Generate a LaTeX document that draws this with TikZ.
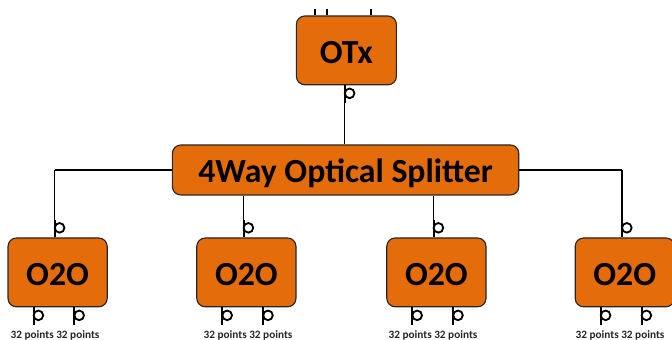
\documentclass[tikz,border=0pt]{standalone}
\usepackage{fontspec}
\setmainfont{Carlito}
\usetikzlibrary{calc}
\definecolor{boxorange}{RGB}{228,108,10}
\tikzset{
         unitbox/.style=
          {
           draw=black!85,
           fill=boxorange,
           thick,
           rounded corners=6,
           inner ysep=0,
           text height=20pt,
           text depth=2pt,
           font=\bfseries\fontsize{24}{26}\selectfont,
           text=black
          },
         pointlabel/.style={font=\bfseries\fontsize{8}{9}\selectfont,text=black!85,inner sep=0},
         port/.pic=
          {
           \draw[line width=1.3pt](0,0)--(0,.44);
           \draw[line width=1.3pt,fill=white](.12,.24)circle(.12);
          }
        }

\begin{document}
\begin{tikzpicture}
\useasboundingbox(0,0)rectangle(16.8,8.5);
\node[unitbox,minimum width=2.5cm,minimum height=1.72cm](otx)at(8.66,7.24){OTx};
\node[unitbox,minimum width=8.66cm,minimum height=1.25cm](splitter)at(8.64,4.25){4Way Optical Splitter};
%o2o boxes
\foreach \n/\x/\lx in {a/1.44/1.375,b/6.16/6.2,c/10.91/10.825,d/15.62/15.5}{
\node[unitbox,minimum width=2.48cm,minimum height=1.72cm](\n)at(\x,1.69){O2O};
\coordinate(top\n)at($(\n.north)+(-.07,0)$);
\pic at(top\n){port};
\pic at($(\n.south)+(-.6,-.44)$){port};
\pic at($(\n.south)+(.42,-.44)$){port};
\node[pointlabel](points\n)at(\lx,.125){32 points 32 points};
}
%links
\coordinate(otxport)at($(otx.south)+(-.04,-.44)$);
\draw[thick](otx.south-|otxport)--(splitter.north-|otxport);
\pic at(otxport){port};
\draw[thick](splitter.west-|topa)--(splitter.west);
\draw[thick](splitter.east)--(splitter.east-|topd);
\foreach \n in {a,d}{
\draw[thick](top\n)--(splitter.west-|top\n);
}
\foreach \n in {b,c}{
\draw[thick](top\n)--(splitter.south-|top\n);
}
%top stubs
\foreach \d in {-.78,-.48,.62}{
\draw[line width=1.2pt]($(otx.north)+(\d,0)$)--($(otx.north)+(\d,.15)$);
}
\end{tikzpicture}
\end{document}
